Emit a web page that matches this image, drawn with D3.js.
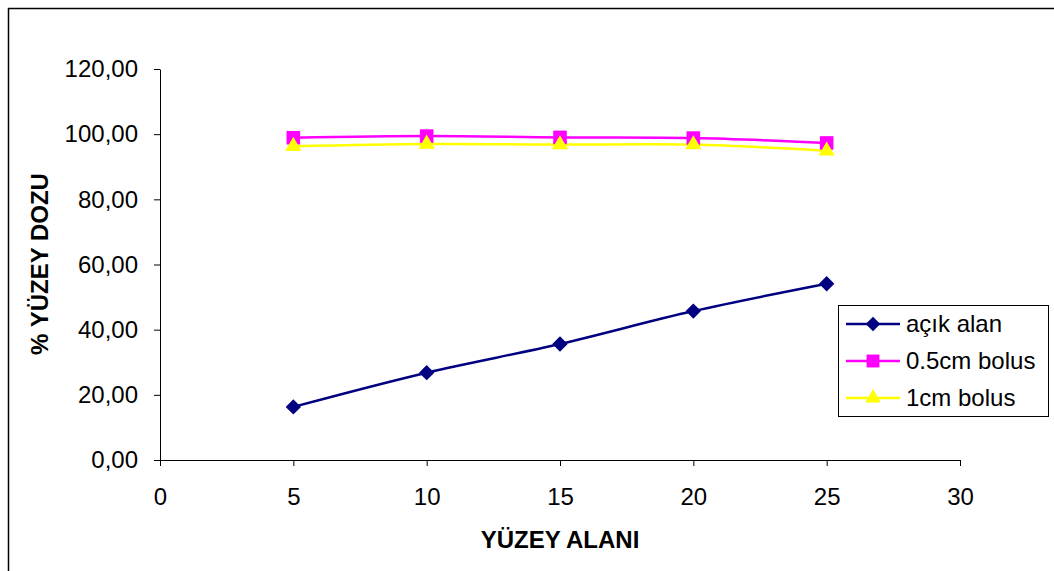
<!DOCTYPE html>
<html>
<head>
<meta charset="utf-8">
<script src="https://cdn.jsdelivr.net/npm/d3@7"></script>
<style>
  html, body { margin: 0; padding: 0; background: #fff; }
  svg { display: block; font-family: "Liberation Sans", Arial, sans-serif; }
</style>
</head>
<body>
<svg id="chart" width="1054" height="571"></svg>
<script>
// Surface area values on the x axis
const areas = [5, 10, 15, 20, 25];
// Surface dose (%) per setup
const openField = [16.3, 26.8, 35.6, 45.7, 54.1];
const bolus05 = [98.9, 99.4, 99.0, 98.8, 97.3];
const bolus1 = [96.3, 97.0, 96.8, 96.8, 94.9];
const seriesNames = ["açık alan", "0.5cm bolus", "1cm bolus"];
const xTicks = [0, 5, 10, 15, 20, 25, 30];
const yTicks = [0, 20, 40, 60, 80, 100, 120];

const series = [
  { name: seriesNames[0], values: openField, color: "#000080", symbol: d3.symbolDiamond2, size: 150 },
  { name: seriesNames[1], values: bolus05, color: "#ff00ff", symbol: d3.symbolSquare2, size: 235 },
  { name: seriesNames[2], values: bolus1, color: "#ffff00", symbol: d3.symbolTriangle2, size: 190 }
];

const FONT = 24;
const svg = d3.select("#chart");

// chart frame
svg.append("rect")
  .attr("x", 8.5).attr("y", 8.5)
  .attr("width", 1100).attr("height", 700)
  .attr("fill", "none").attr("stroke", "#000").attr("stroke-width", 1.5);

const x = d3.scaleLinear().domain([0, 30]).range([160, 960]);
const y = d3.scaleLinear().domain([0, 120]).range([460, 69]);

const fmt = d => d3.format(".2f")(d).replace(".", ",");

// y axis
const yAxis = svg.append("g")
  .attr("transform", `translate(${x(0)},0)`)
  .call(d3.axisLeft(y).tickValues(yTicks).tickFormat(fmt).tickSize(6).tickSizeOuter(0).tickPadding(16));
yAxis.selectAll("text").attr("font-size", FONT).attr("fill", "#000")
  .attr("font-family", "Liberation Sans, Arial, sans-serif");
yAxis.selectAll("line, path").attr("stroke", "#000");

// x axis
const xAxis = svg.append("g")
  .attr("transform", `translate(0,${y(0)})`)
  .call(d3.axisBottom(x).tickValues(xTicks).tickFormat(d3.format("d")).tickSize(6).tickSizeOuter(0).tickPadding(22));
xAxis.selectAll("text").attr("font-size", FONT).attr("fill", "#000")
  .attr("font-family", "Liberation Sans, Arial, sans-serif");
xAxis.selectAll("line, path").attr("stroke", "#000");

// axis titles
svg.append("text")
  .attr("x", 560).attr("y", 548)
  .attr("text-anchor", "middle")
  .attr("font-size", FONT).attr("font-weight", "bold")
  .text("YÜZEY ALANI");

svg.append("text")
  .attr("transform", "translate(48,264) rotate(-90)")
  .attr("text-anchor", "middle")
  .attr("font-size", FONT).attr("font-weight", "bold")
  .text("% YÜZEY DOZU");

// lines and markers
const line = d3.line()
  .x((d, i) => x(areas[i]))
  .y(d => y(d))
  .curve(d3.curveCatmullRom.alpha(0.5));

series.forEach(s => {
  svg.append("path")
    .datum(s.values)
    .attr("d", line)
    .attr("fill", "none")
    .attr("stroke", s.color)
    .attr("stroke-width", 2.5);
});

series.forEach(s => {
  svg.append("g").selectAll("path")
    .data(s.values)
    .join("path")
    .attr("transform", (d, i) => `translate(${x(areas[i])},${y(d)})`)
    .attr("d", d3.symbol().type(s.symbol).size(s.size))
    .attr("fill", s.color);
});

// legend
const legend = svg.append("g");
legend.append("rect")
  .attr("x", 838.5).attr("y", 305.5)
  .attr("width", 210).attr("height", 111)
  .attr("fill", "#fff").attr("stroke", "#000").attr("stroke-width", 1);

series.forEach((s, i) => {
  const cy = 324 + i * 37;
  legend.append("line")
    .attr("x1", 846).attr("x2", 900)
    .attr("y1", cy).attr("y2", cy)
    .attr("stroke", s.color).attr("stroke-width", 2.5);
  legend.append("path")
    .attr("transform", `translate(873,${cy})`)
    .attr("d", d3.symbol().type(s.symbol).size(s.size * 0.9))
    .attr("fill", s.color);
  legend.append("text")
    .attr("x", 906).attr("y", cy + 8)
    .attr("font-size", FONT).attr("fill", "#000")
    .text(s.name);
});
</script>
</body>
</html>
